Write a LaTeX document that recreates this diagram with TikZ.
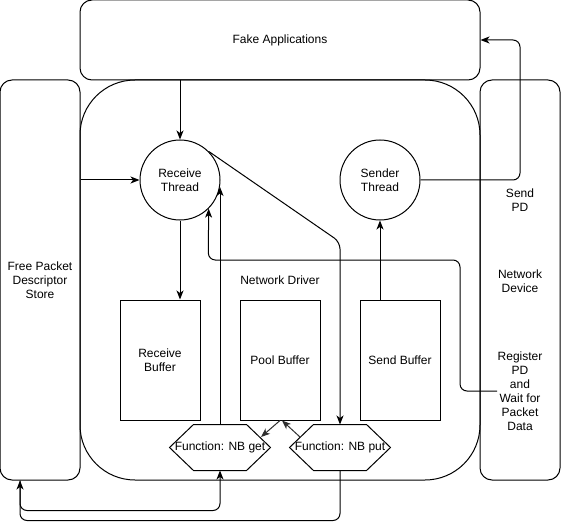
\documentclass[tikz,border=0pt]{standalone}
\usepackage{fontspec}
\setmainfont{Liberation Sans}
\usetikzlibrary{arrows.meta,calc}
\begin{document}
\begin{tikzpicture}[x=1pt,y=-1pt, line width=1pt,
 every node/.style={font=\fontsize{12}{14}\selectfont, align=center, inner sep=0pt},
 arr/.style={-{Stealth[length=9pt,width=7pt,inset=2.5pt]}, rounded corners=7pt},
 arrg/.style={arr, draw=black!82},
 box/.style={draw, rounded corners=12pt},
 buf/.style={draw, minimum width=80pt, minimum height=120pt},
 thread/.style={draw, circle, minimum size=80pt},
 fn/.style={minimum width=100pt, minimum height=45pt}]
\useasboundingbox (0,0) rectangle (561,529);
% containers
\node[draw, rounded corners=55pt, minimum width=400pt, minimum height=400pt] (drv) at (280,280) {};
\node (drvlbl) at (280,280) {Network Driver};
\node[box, minimum width=400pt, minimum height=80pt] (fake) at (280,40) {Fake Applications};
\node[box, minimum width=80pt, minimum height=400pt] (free) at (40,280) {Free Packet\\Descriptor\\Store};
\node[box, minimum width=80pt, minimum height=400pt] (dev) at (520,280) {};
\node (sendpd) at (520,200) {Send\\PD};
\node (netdev) at (520,281) {Network\\Device};
\node (reg) at (520,391) {Register\\PD\\and\\Wait for\\Packet\\Data};
% threads
\node[thread] (rt) at (180,180) {Receive\\Thread};
\node[thread] (st) at (380,180) {Sender\\Thread};
% buffers
\node[buf] (rb) at (160,360) {Receive\\Buffer};
\node[buf] (pb) at (280,360) {Pool Buffer};
\node[buf] (sb) at (400,360) {Send Buffer};
% functions
\node[fn] (get) at (220,447.5) {Function: NB get};
\node[fn] (put) at (340,447.5) {Function: NB put};
\foreach \n in {get,put}{
  \draw (\n.west) -- ([xshift=24pt]\n.north west) -- ([xshift=-24pt]\n.north east) -- (\n.east)
        -- ([xshift=-24pt]\n.south east) -- ([xshift=24pt]\n.south west) -- cycle;
}
% connectors
\draw[arr] (fake.south -| rt.north) -- (rt.north);
\draw[arr] (free.east |- rt.west) -- (rt.west);
\draw[arr] (rt.south) -- (rt.south |- rb.north);
\draw[arr] (st.east) -- (520,180) -- (520,40) -- (fake.east);
\draw[arr] (rt.45) -- (340,242) -- (put.north);
\draw[arr] (sb.north -| st.south) -- (st.south);
\draw[arr] (get.north) -- (220,187);
\draw[arr] (reg.west) -- (460,391) -- (460,260) -- (208.3,260) -- (rt.-45);
\draw[arrg] (pb.south) -- (261,437);
\draw[arrg] (300,437) -- (282,420.5);
\draw[arr] ([xshift=-20pt]free.south) -- ++(0,30) -| (get.south);
\draw[arr] (put.south) -- ++(0,50) -| ([xshift=-20pt]free.south);
\end{tikzpicture}
\end{document}
